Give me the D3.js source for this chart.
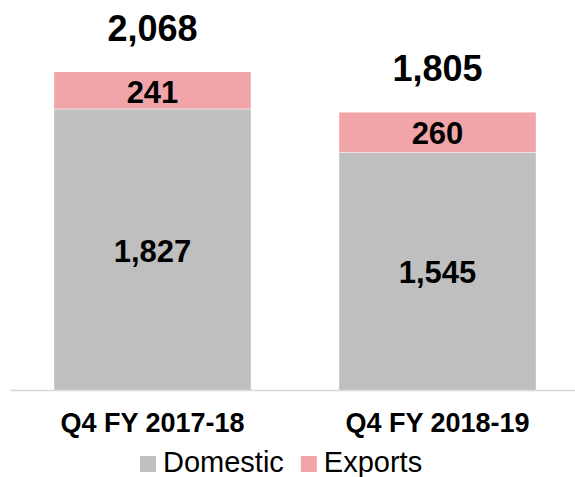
<!DOCTYPE html>
<html>
<head>
<meta charset="utf-8">
<script src="https://cdn.jsdelivr.net/npm/d3@7"></script>
<style>
  body { margin: 0; background: #fff; }
  svg { display: block; font-family: Arial, "Liberation Sans", sans-serif; }
</style>
</head>
<body>
<svg id="chart" width="575" height="477"></svg>
<script>
const quarters = ["Q4 FY 2017-18", "Q4 FY 2018-19"];
const domestic = [1827, 1545];
const exports = [241, 260];
const seriesNames = ["Domestic", "Exports"];
const colors = ["#bfbfbf", "#f1a5a9"];

const svg = d3.select("#chart");
const baseline = 390;

const rows = quarters.map((q, i) => ({ quarter: q, Domestic: domestic[i], Exports: exports[i] }));
const stacked = d3.stack().keys(seriesNames)(rows);

const x = d3.scaleBand()
    .domain(quarters)
    .range([10, 580])
    .paddingInner(0.31)
    .paddingOuter(0.155);

const y = d3.scaleLinear()
    .domain([0, d3.max(rows, d => d.Domestic + d.Exports)])
    .range([baseline, 72]);

// bars
const layer = svg.selectAll(".layer")
    .data(stacked)
    .enter().append("g")
    .attr("class", "layer")
    .attr("fill", (d, i) => colors[i]);

layer.selectAll("rect")
    .data(d => d)
    .enter().append("rect")
    .attr("x", d => x(d.data.quarter))
    .attr("y", d => y(d[1]))
    .attr("width", x.bandwidth())
    .attr("height", d => y(d[0]) - y(d[1]));

// thin light separator between segments
svg.selectAll(".sep")
    .data(rows)
    .enter().append("line")
    .attr("x1", d => x(d.quarter))
    .attr("x2", d => x(d.quarter) + x.bandwidth())
    .attr("y1", d => y(d.Domestic))
    .attr("y2", d => y(d.Domestic))
    .attr("stroke", "#f6e4e4")
    .attr("stroke-width", 1);

// axis line
svg.append("line")
    .attr("x1", 10).attr("x2", 575)
    .attr("y1", baseline + 0.5).attr("y2", baseline + 0.5)
    .attr("stroke", "#d9d9d9")
    .attr("stroke-width", 1.5);

// segment labels
layer.selectAll("text")
    .data(d => d)
    .enter().append("text")
    .attr("x", d => x(d.data.quarter) + x.bandwidth() / 2)
    .attr("y", d => (y(d[0]) + y(d[1])) / 2 + 12)
    .attr("text-anchor", "middle")
    .attr("fill", "#000")
    .style("font-weight", "bold")
    .style("font-size", "31px")
    .text(d => d3.format(",")(d[1] - d[0]));

// totals
svg.selectAll(".total")
    .data(rows)
    .enter().append("text")
    .attr("class", "total")
    .attr("x", d => x(d.quarter) + x.bandwidth() / 2)
    .attr("y", d => y(d.Domestic + d.Exports) - 31)
    .attr("text-anchor", "middle")
    .style("font-weight", "bold")
    .style("font-size", "36px")
    .text(d => d3.format(",")(d.Domestic + d.Exports));

// category labels
svg.append("g")
    .attr("transform", `translate(0,${baseline})`)
    .call(d3.axisBottom(x).tickSize(0).tickPadding(0))
    .call(g => g.select(".domain").remove())
    .selectAll("text")
    .attr("dy", null)
    .attr("y", 42)
    .attr("fill", "#000")
    .style("font-family", "Arial, 'Liberation Sans', sans-serif")
    .style("font-weight", "bold")
    .style("font-size", "27px");

// legend
const legend = svg.append("g").attr("transform", "translate(140,0)");
let lx = 0;
seriesNames.forEach((name, i) => {
    legend.append("rect")
        .attr("x", lx).attr("y", 456)
        .attr("width", 16).attr("height", 16)
        .attr("fill", colors[i]);
    const t = legend.append("text")
        .attr("x", lx + 23).attr("y", 472)
        .style("font-size", "29px")
        .text(name);
    lx += 23 + t.node().getComputedTextLength() + 17;
});
</script>
</body>
</html>
